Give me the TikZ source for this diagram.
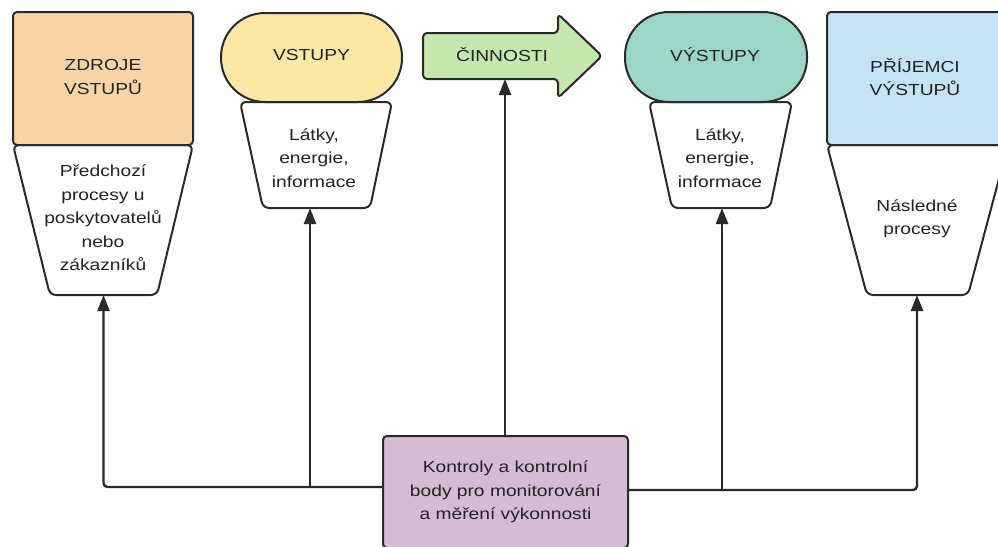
\documentclass[tikz,border=0pt]{standalone}
\usepackage{fontspec}
\setmainfont{Liberation Sans}[FakeStretch=1.2]
\usetikzlibrary{arrows.meta}

\definecolor{peach}{HTML}{F9D5A6}
\definecolor{butter}{HTML}{FCE8A5}
\definecolor{mint}{HTML}{C6E8AE}
\definecolor{teal}{HTML}{9BD6C8}
\definecolor{sky}{HTML}{C4E3F5}
\definecolor{lilac}{HTML}{D4BCD4}
\definecolor{edge}{HTML}{2A2A2A}
\definecolor{ink}{HTML}{222222}

\tikzset{
  outline/.style={draw=edge, line width=2pt, line join=round},
  label/.style={align=center, inner sep=0pt, text=ink,
    font=\fontsize{16}{23.5}\selectfont},
  conn/.style={draw=edge, line width=2.4pt, rounded corners=4pt,
    -{Triangle[length=16pt,width=12pt]}},
}

\begin{document}
\begin{tikzpicture}[x=1pt,y=-1pt]
\useasboundingbox (0,0) rectangle (998,546);
\clip (0,0) rectangle (998,546);

% --- sources of inputs ---
\draw[outline, fill=white, rounded corners=6pt]
  (13,145) -- (193,145) -- (157,295) -- (50,295) -- cycle;
\draw[outline, fill=peach, rounded corners=4pt]
  (13,145) -- (13,12) -- (193,12) -- (193,145) -- cycle;
\node[label] (zdroje) at (103,77) {ZDROJE\\VSTUPŮ};
\node[label] (predchozi) at (103,218) {Předchozí\\procesy u\\poskytovatelů\\nebo\\zákazníků};
\coordinate (zdrojbot) at (103.5,295);

% --- inputs ---
\draw[outline, fill=white, rounded corners=6pt]
  (240,102) -- (392,102) -- (370,208) -- (263,208) -- cycle;
\draw[outline, fill=butter, rounded corners=44pt]
  (221,13) rectangle (402,102);
\node[label] (vstupy) at (311.5,55) {VSTUPY};
\node[label] (latky1) at (314,158) {Látky,\\energie,\\informace};
\coordinate (vstupbot) at (310,208);

% --- activities arrow ---
\draw[outline, fill=mint, rounded corners=4pt]
  (423,33) -- (558,33) -- (558,14) -- (602,56) -- (558,98)
  -- (558,79) -- (423,79) -- cycle;
\node[label] (cinnosti) at (502,55) {ČINNOSTI};
\coordinate (cinbot) at (505,79);

% --- outputs ---
\draw[outline, fill=white, rounded corners=6pt]
  (649,102) -- (792,102) -- (770,208) -- (672,208) -- cycle;
\draw[outline, fill=teal, rounded corners=44pt]
  (625,12) rectangle (807,102);
\node[label] (vystupy) at (715,55) {VÝSTUPY};
\node[label] (latky2) at (720,158) {Látky,\\energie,\\informace};
\coordinate (vystupbot) at (722,208);

% --- recipients of outputs ---
\draw[outline, fill=white, rounded corners=6pt]
  (827,145) -- (1008,145) -- (968,295) -- (867,295) -- cycle;
\draw[outline, fill=sky, rounded corners=4pt]
  (827,145) -- (827,12) -- (1008,12) -- (1008,145) -- cycle;
\node[label] (prijemci) at (915,77) {PŘÍJEMCI\\VÝSTUPŮ};
\node[label] (nasledne) at (917,219) {Následné\\procesy};
\coordinate (prijbot) at (917,295);

% --- control and monitoring ---
\node[outline, fill=lilac, rounded corners=4pt, minimum width=245pt,
  minimum height=112pt, label] (kontrol) at (505.5,492)
  {Kontroly a kontrolní\\body pro monitorování\\a měření výkonnosti};

\coordinate (lrail) at ([yshift=5pt]kontrol.west);
\coordinate (rrail) at ([yshift=2pt]kontrol.east);

\draw[conn] (lrail) -| (zdrojbot);
\draw[conn] (lrail -| vstupbot) -- (vstupbot);
\draw[conn] (kontrol.north -| cinbot) -- (cinbot);
\draw[conn] (rrail -| vystupbot) -- (vystupbot);
\draw[conn] (rrail) -| (prijbot);
\end{tikzpicture}
\end{document}
